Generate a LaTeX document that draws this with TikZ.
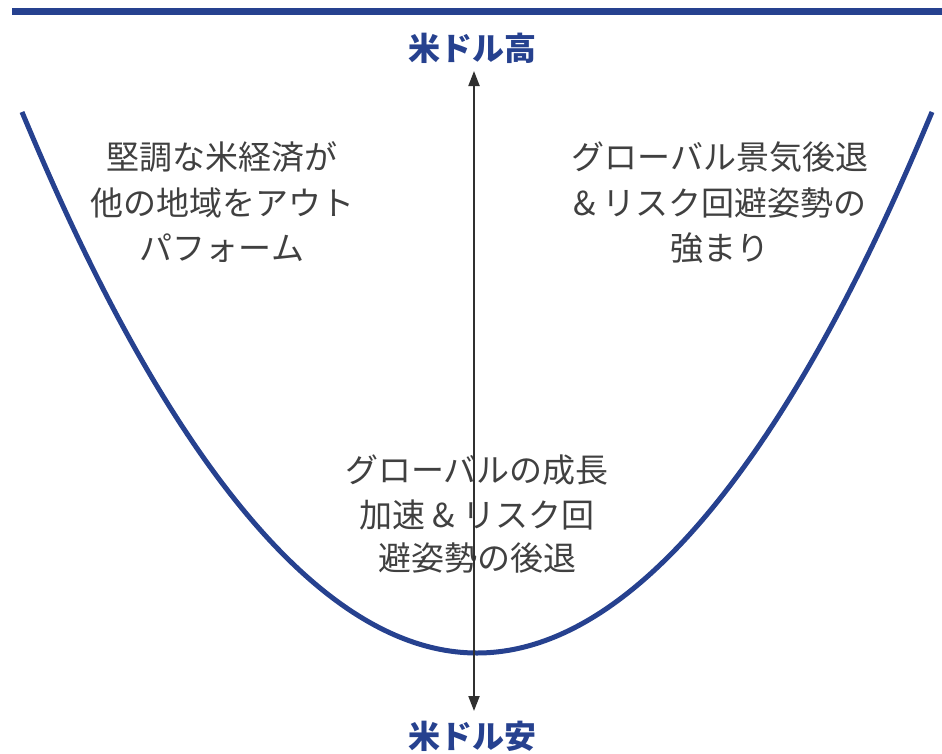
\documentclass[tikz,border=0pt]{standalone}
\usepackage{fontspec}
\setmainfont{Noto Sans CJK JP}
\usetikzlibrary{arrows.meta}
\definecolor{navy}{HTML}{26418F}
\definecolor{txtgray}{HTML}{404040}
\definecolor{arrowgray}{HTML}{303030}
\tikzset{
  body/.style={text=txtgray, font=\fontsize{33}{33}\selectfont, anchor=center, inner sep=0pt},
  title/.style={text=navy, font=\fontsize{32}{32}\selectfont\bfseries, anchor=center, inner sep=0pt},
  curve/.style={draw=navy, line width=5pt},
  axis/.style={draw=arrowgray, line width=2pt, {Triangle[width=11pt,length=15pt]}-{Triangle[width=11pt,length=15pt]}}
}
\begin{document}
\begin{tikzpicture}[x=1pt,y=-1pt]
\useasboundingbox (0,0) rectangle (942,753);
% top rule
\draw[navy, line width=7pt] (12,11.5) -- (942,11.5);
% parabola
\coordinate (cl) at (22,112);
\coordinate (cb) at (477,653);
\coordinate (cr) at (932,112);
\draw[curve] (cl) parabola bend (cb) (cr);
% texts
\node[body] (l1) at (222,157) {堅調な米経済が};
\node[body] (l2) at (222,203) {他の地域をアウト};
\node[body] (l3) at (222,248) {パフォーム};
\node[body] (r1) at (720,157) {グローバル景気後退};
\node[body] (r2) at (720,203) {\& リスク回避姿勢の};
\node[body] (r3) at (720,248) {強まり};
\node[body] (m1) at (477,470) {グローバルの成長};
\node[body] (m2) at (477,515) {加速 \& リスク回};
\node[body] (m3) at (477,558) {避姿勢の後退};
% titles
\node[title] (top) at (472,48) {米ドル高};
\node[title] (bot) at (472,736) {米ドル安};
% axis arrow
\coordinate (at) at (474,71);
\coordinate (ab) at (474,711);
\draw[axis] (at) -- (ab);
\end{tikzpicture}
\end{document}
